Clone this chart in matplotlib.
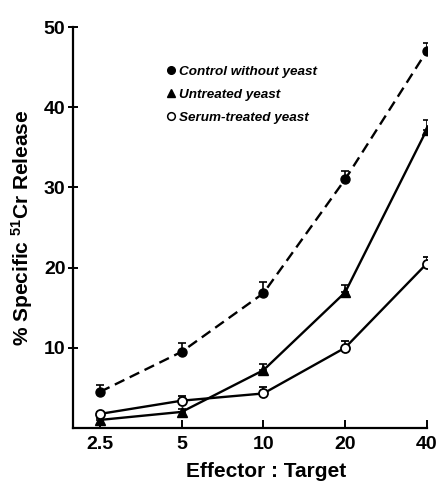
import matplotlib; matplotlib.use('Agg')

import matplotlib.pyplot as plt
import numpy as np
from matplotlib.lines import Line2D

plt.rcParams['font.family'] = ['Liberation Sans', 'DejaVu Sans']
plt.rcParams['font.weight'] = 'bold'
plt.rcParams['mathtext.fontset'] = 'custom'
plt.rcParams['mathtext.bf'] = 'Liberation Sans:bold'
plt.rcParams['mathtext.rm'] = 'Liberation Sans:bold'
plt.rcParams['mathtext.default'] = 'bf'

ratios = [2.5, 5, 10, 20, 40]
ratio_labels = ["2.5", "5", "10", "20", "40"]

control = [4.5, 9.5, 16.8, 31.0, 47.0]
control_err = [0.8, 1.1, 1.4, 1.0, 1.0]
untreated = [1.0, 2.0, 7.2, 16.9, 37.2]
untreated_err = [0.3, 0.3, 0.8, 0.9, 1.2]
serum = [1.75, 3.4, 4.3, 10.0, 20.5]
serum_err = [0.3, 0.6, 0.8, 0.9, 0.8]

labels = ["Control without yeast", "Untreated yeast", "Serum-treated yeast"]

fig = plt.figure(figsize=(4.4, 4.83), dpi=100)
ax = fig.add_axes([0.166, 0.114, 0.804, 0.830])

x = np.log2(ratios)

ax.errorbar(x, control, yerr=[np.zeros(5), control_err], color='black', ls='--',
            dashes=(4.5, 2.5), lw=1.7, marker='o', ms=6.5, mfc='black',
            capsize=3, elinewidth=1.2, capthick=1.2)
ax.errorbar(x, untreated, yerr=[np.zeros(5), untreated_err], color='black', ls='-',
            lw=1.7, marker='^', ms=7, mfc='black',
            capsize=3, elinewidth=1.2, capthick=1.2)
ax.errorbar(x, serum, yerr=[np.zeros(5), serum_err], color='black', ls='-',
            lw=1.7, marker='o', ms=6.5, mfc='white', mec='black', mew=1.3,
            capsize=3, elinewidth=1.2, capthick=1.2)

ax.set_xlim(np.log2(2.5) - 0.33, np.log2(40))
ax.set_ylim(0, 50)
ax.set_xticks(x)
ax.set_xticklabels(ratio_labels)
ax.set_yticks([10, 20, 30, 40, 50])

for s in ['top', 'right']:
    ax.spines[s].set_visible(False)
for s in ['left', 'bottom']:
    ax.spines[s].set_linewidth(1.6)

ax.tick_params(axis='x', direction='in', length=6, width=1.4, labelsize=14, pad=6)
ax.tick_params(axis='y', direction='inout', length=7, width=1.4, labelsize=14, pad=2)

ax.set_xlabel("Effector : Target", fontsize=15, fontweight='bold', labelpad=6)
ax.xaxis.set_label_coords(0.545, -0.085)
ax.set_ylabel(r"% Specific $^{51}$Cr Release", fontsize=15, fontweight='bold', labelpad=6)

handles = [
    Line2D([], [], ls='none', marker='o', color='black', ms=5.5),
    Line2D([], [], ls='none', marker='^', color='black', ms=6),
    Line2D([], [], ls='none', marker='o', mfc='white', mec='black', mew=1.1, ms=5.5),
]
leg = ax.legend(handles, labels, loc='upper left', bbox_to_anchor=(0.23, 0.935),
                frameon=False, handlelength=0.6, handletextpad=0.3,
                labelspacing=0.8, prop={'size': 9.7, 'weight': 'bold', 'style': 'italic'})

plt.savefig('out.png', dpi=100)
